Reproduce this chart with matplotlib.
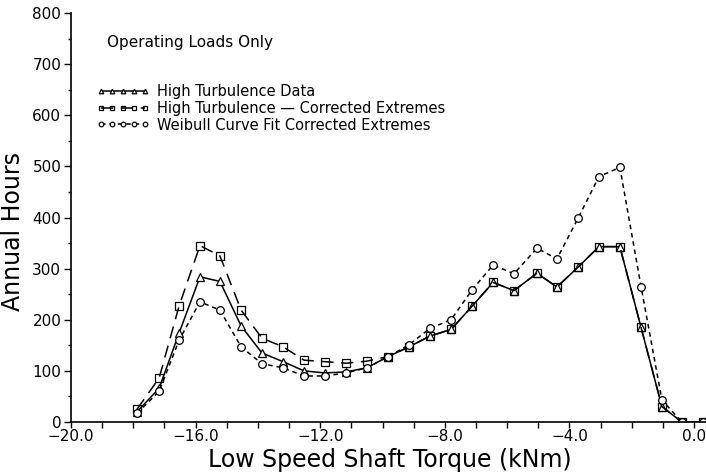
import numpy as np
import matplotlib
matplotlib.use("Agg")
import matplotlib.pyplot as plt
from matplotlib.ticker import FuncFormatter, MultipleLocator

# Bin centres (kNm) and annual hours
torque = [-17.88, -17.17, -16.53, -15.86, -15.22, -14.54, -13.87, -13.19,
          -12.52, -11.85, -11.17, -10.50, -9.82, -9.15, -8.48, -7.80,
          -7.13, -6.45, -5.78, -5.04, -4.40, -3.72, -3.05, -2.38,
          -1.70, -1.03, -0.39, 0.29]

high_turb = [20, 66, 174, 284, 275, 188, 135, 118,
             100, 96, 98, 106, 128, 147, 168, 181,
             226, 273, 257, 291, 264, 303, 343, 343,
             185, 30, 0, 0]

corrected = [25, 86, 227, 345, 325, 219, 164, 147,
             121, 118, 115, 119, 128, 147, 168, 181,
             226, 273, 257, 291, 264, 303, 343, 343,
             185, 30, 0, 0]

weibull = [17, 60, 160, 235, 219, 147, 114, 106,
           90, 90, 96, 106, 128, 151, 183, 200,
           258, 307, 290, 340, 319, 399, 480, 498,
           265, 43, 0, 0]

labels = ["High Turbulence Data",
          "High Turbulence \u2014 Corrected Extremes",
          "Weibull Curve Fit Corrected Extremes"]

plt.rcParams["font.family"] = ["DejaVu Sans"]

fig = plt.figure(figsize=(7.06, 4.76), dpi=100)
ax = fig.add_axes([71 / 706, 54 / 476, 635 / 706, 409 / 476])

# Courbes
ax.plot(torque, high_turb, color="black", lw=1.1, ls="-",
        marker="^", ms=5.5, mfc="white", mec="black", mew=0.9, label=labels[0])
ax.plot(torque, corrected, color="black", lw=1.1, ls=(0, (8, 5)),
        marker="s", ms=5.5, mfc="none", mec="black", mew=0.9, label=labels[1])
ax.plot(torque, weibull, color="black", lw=1.1, ls=(0, (3, 2.5)),
        marker="o", ms=5.5, mfc="white", mec="black", mew=0.9, label=labels[2])

ax.set_xlim(-20, 0.385)
ax.set_ylim(0, 800)

# Axes
for side in ["top", "right"]:
    ax.spines[side].set_visible(False)
ax.spines["left"].set_linewidth(1.2)
ax.spines["bottom"].set_linewidth(1.2)

ax.xaxis.set_major_locator(MultipleLocator(4))
ax.xaxis.set_minor_locator(MultipleLocator(1))
ax.yaxis.set_major_locator(MultipleLocator(100))
ax.yaxis.set_minor_locator(MultipleLocator(50))
ax.xaxis.set_major_formatter(FuncFormatter(lambda v, p: f"{v:.1f}".replace("-", "\u2212")))

ax.tick_params(axis="x", which="both", direction="out", length=4, width=1, pad=1, labelsize=11)
ax.tick_params(axis="y", which="major", direction="out", length=5, width=1, pad=2, labelsize=11)
ax.tick_params(axis="y", which="minor", direction="out", length=2, width=1)

ax.set_xlabel("Low Speed Shaft Torque (kNm)", fontsize=17)
ax.xaxis.set_label_coords(0.502, -0.064)
ax.set_ylabel("Annual Hours", fontsize=17)
ax.yaxis.set_label_coords(-0.073, 0.465)

# Legende et note
fig.text(107 / 706, 1 - 42 / 476, "Operating Loads Only", fontsize=11, va="center")
ax.legend(loc="upper left", bbox_to_anchor=(97 / 706, 1 - 84 / 476),
          bbox_transform=fig.transFigure, frameon=False, numpoints=5,
          markerscale=0.6, handlelength=3.6, handletextpad=0.5,
          labelspacing=0.12, borderpad=0, borderaxespad=0, fontsize=10.5)

plt.savefig("out.png", dpi=100)
